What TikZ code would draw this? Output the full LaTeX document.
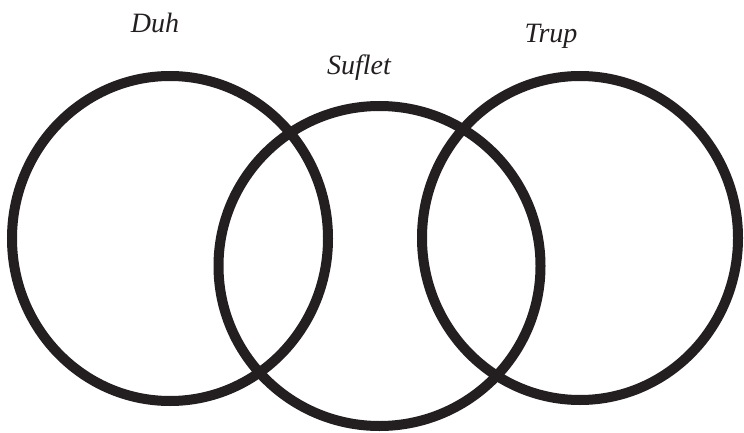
\documentclass[tikz,border=0pt]{standalone}
\usepackage{fontspec}
\setmainfont{Liberation Serif}
\definecolor{ink}{HTML}{231F20}
\begin{document}
\begin{tikzpicture}[x=1pt,y=-1pt,
  ring/.style={draw=ink,line width=10pt},
  lbl/.style={font=\itshape\fontsize{28}{33}\selectfont,text=ink,anchor=base,inner sep=0pt}]
\useasboundingbox (0,0) rectangle (744,433);
\coordinate (c1) at (170,238.5);
\coordinate (c2) at (379.5,266);
\coordinate (c3) at (580,238);
\draw[ring] (c1) ellipse [x radius=158, y radius=162.5];
\draw[ring] (c2) ellipse [x radius=161, y radius=160];
\draw[ring] (c3) ellipse [x radius=158, y radius=162];
\node[lbl] (duh) at (155,33) {Duh};
\node[lbl] (suflet) at (359,75) {Suflet};
\node[lbl] (trup) at (551,43) {Trup};
\end{tikzpicture}
\end{document}
